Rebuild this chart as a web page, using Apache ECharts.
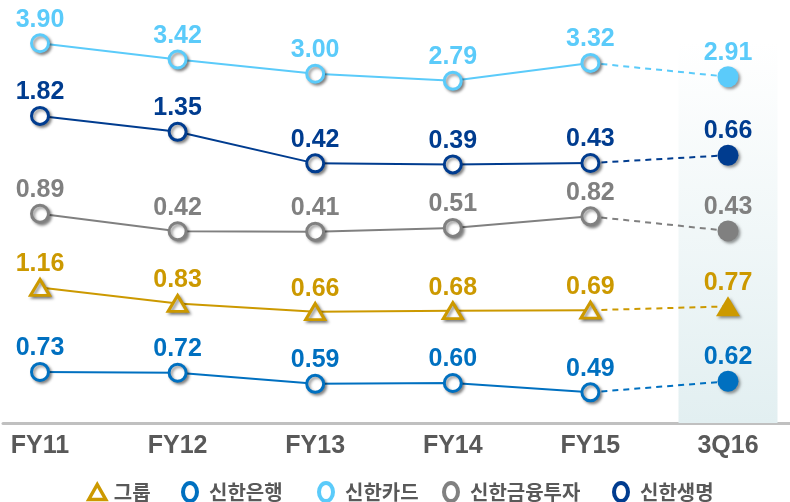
<!DOCTYPE html>
<html>
<head>
<meta charset="utf-8">
<script src="https://cdn.jsdelivr.net/npm/echarts@6.0.0/dist/echarts.min.js"></script>
<style>
  html, body { margin: 0; padding: 0; background: #fff; }
  #chart { width: 790px; height: 502px; }
</style>
</head>
<body>
<div id="chart"></div>
<script>
// categories and values per company
const categories = ['FY11', 'FY12', 'FY13', 'FY14', 'FY15', '3Q16'];
const group  = [1.16, 0.83, 0.66, 0.68, 0.69, 0.77];
const bank   = [0.73, 0.72, 0.59, 0.60, 0.49, 0.62];
const card   = [3.90, 3.42, 3.00, 2.79, 3.32, 2.91];
const invest = [0.89, 0.42, 0.41, 0.51, 0.82, 0.43];
const life   = [1.82, 1.35, 0.42, 0.39, 0.43, 0.66];

const names = ['그룹', '신한은행', '신한카드', '신한금융투자', '신한생명'];

const chart = echarts.init(document.getElementById('chart'));

// legend icons: plain shapes, drawn hollow through the border
const ellipse = 'path://M0,9A6,9,0,1,1,12,9A6,9,0,1,1,0,9Z';
const triangle = 'path://M0,16L9,0L18,16Z';

const shadow = {
  shadowBlur: 3,
  shadowColor: 'rgba(0,0,0,0.4)',
  shadowOffsetX: 2,
  shadowOffsetY: 2
};

function lineSeries(name, values, color, axis, tri) {
  const solid = values.map((v, i) => (i < 5 ? v : '-'));
  const dashed = values.map((v, i) => {
    if (i < 4) return '-';
    if (i === 4) return { value: v, symbol: 'none', label: { show: false } };
    return v;
  });
  const label = {
    show: true,
    position: 'top',
    distance: 1,
    color: color,
    fontSize: 25,
    fontWeight: 'bold',
    fontFamily: 'Liberation Sans',
    formatter: p => Number(p.value).toFixed(2)
  };
  return [
    {
      name: name,
      type: 'line',
      yAxisIndex: axis,
      data: solid,
      symbol: tri ? 'triangle' : 'circle',
      symbolSize: tri ? [19, 16] : 17,
      lineStyle: { color: color, width: 2 },
      itemStyle: Object.assign({ color: '#fff', borderColor: color, borderWidth: 3 }, shadow),
      label: label,
      z: 3
    },
    {
      name: name,
      type: 'line',
      yAxisIndex: axis,
      data: dashed,
      symbol: tri ? 'triangle' : 'circle',
      symbolSize: tri ? [24, 20] : 21,
      lineStyle: { color: color, width: 2, type: [6, 5] },
      itemStyle: Object.assign({ color: color, borderWidth: 0 }, shadow),
      label: label,
      z: 2
    }
  ];
}

const colors = ['#CC9900', '#0070C0', '#5BCBFA', '#808080', '#003C8F'];
const legendLeft = [87, 181, 317, 442, 612];

function hiddenY(min, max, grid) {
  return { type: 'value', gridIndex: grid || 0, min: min, max: max, show: false, splitLine: { show: false } };
}

const legends = names.map((n, i) => ({
  left: legendLeft[i],
  top: 481,
  padding: 0,
  itemWidth: i === 0 ? 17 : 14,
  itemHeight: i === 0 ? 15 : 18,
  itemGap: 0,
  symbolKeepAspect: false,
  data: [{
    name: n,
    icon: i === 0 ? triangle : ellipse,
    itemStyle: {
      color: '#fff',
      borderColor: colors[i],
      borderWidth: i === 0 ? 3.5 : 4,
      shadowBlur: 0
    }
  }],
  textStyle: {
    fontFamily: 'Noto Sans CJK KR',
    fontWeight: 'bold',
    fontSize: 20,
    lineHeight: 22,
    color: '#595959',
    padding: [0, 0, 0, i === 0 ? 3 : 7]
  },
  selectedMode: false
}));

const option = {
  animation: false,
  backgroundColor: '#fff',
  legend: legends,
  grid: [
    { left: 40, right: 62, top: 0, bottom: 79 },
    { left: 3, right: 0, top: 0, bottom: 79 }
  ],
  xAxis: [
    {
      type: 'category',
      data: categories,
      boundaryGap: false,
      axisLine: { show: false },
      axisTick: { show: false },
      axisLabel: {
        color: '#595959',
        fontSize: 25,
        fontWeight: 'bold',
        fontFamily: 'Liberation Sans',
        margin: 11
      }
    },
    {
      type: 'category',
      gridIndex: 1,
      data: categories,
      axisLine: { onZero: false, lineStyle: { color: '#C0C0C0', width: 3 } },
      axisTick: { show: false },
      axisLabel: { show: false }
    }
  ],
  yAxis: [
    hiddenY(-1.64, 7.10),   // 그룹
    hiddenY(0.13, 5.10),    // 신한은행
    hiddenY(-7.33, 5.18),   // 신한카드
    hiddenY(-4.72, 6.62),   // 신한금융투자
    hiddenY(-7.24, 5.24),   // 신한생명
    hiddenY(0, 1),          // highlight band
    hiddenY(0, 1, 1)        // full-width axis line
  ],
  series: [
    {
      type: 'bar',
      yAxisIndex: 5,
      barWidth: 99,
      clip: false,
      silent: true,
      data: categories.map((c, i) => (i === categories.length - 1 ? 0.9 : '-')),
      itemStyle: {
        color: new echarts.graphic.LinearGradient(0, 0, 0, 1, [
          { offset: 0, color: 'rgba(255,255,255,1)' },
          { offset: 1, color: '#E2EFF1' }
        ])
      },
      z: 0
    },
    ...lineSeries(names[0], group, colors[0], 0, true),
    ...lineSeries(names[1], bank, colors[1], 1, false),
    ...lineSeries(names[2], card, colors[2], 2, false),
    ...lineSeries(names[3], invest, colors[3], 3, false),
    ...lineSeries(names[4], life, colors[4], 4, false)
  ]
};

chart.setOption(option);
</script>
</body>
</html>
